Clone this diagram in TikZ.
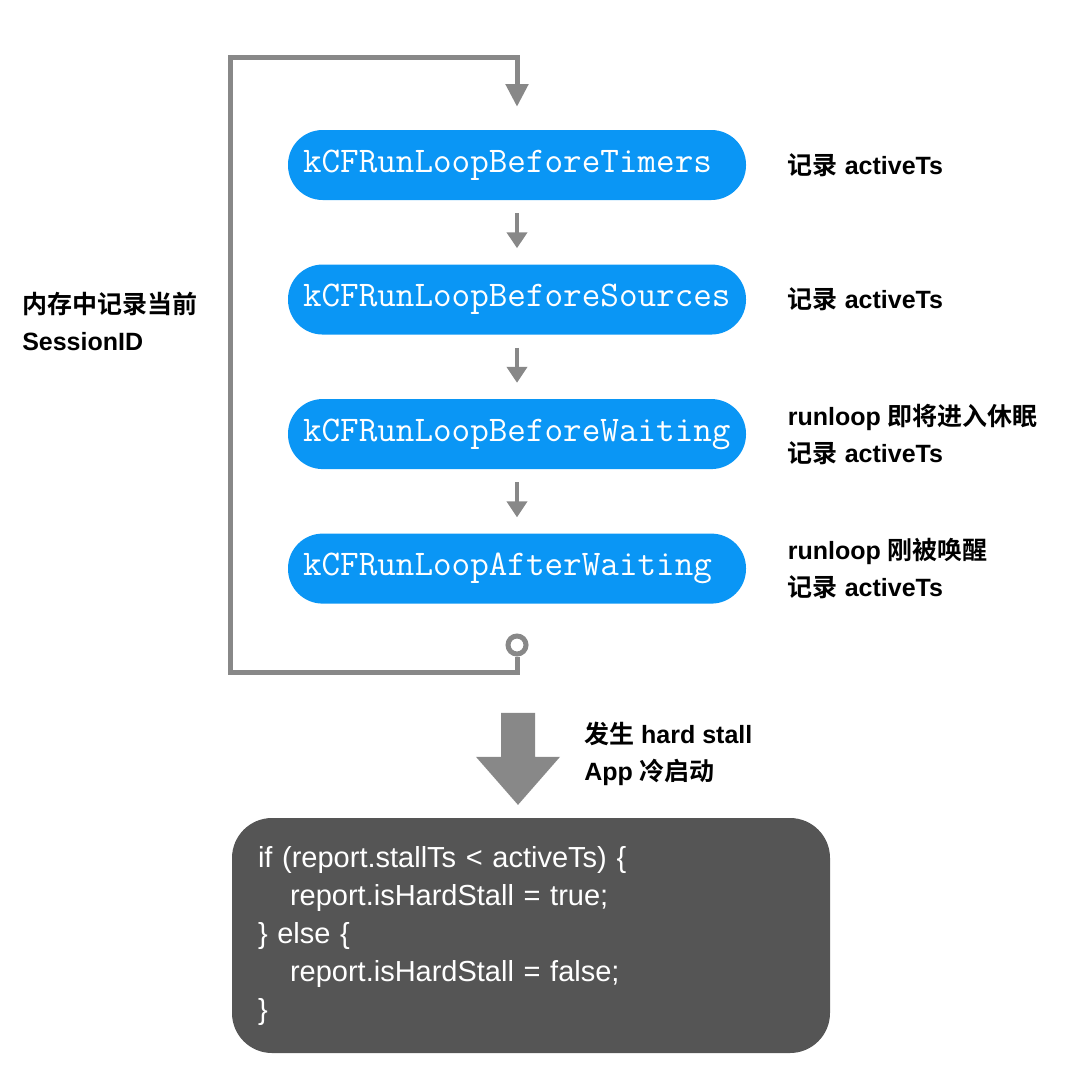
\documentclass[tikz,border=0pt]{standalone}
\usepackage{fontspec}
\setmainfont{Liberation Sans}
\newfontfamily\cjk{Noto Sans CJK SC}[BoldFont={Noto Sans CJK SC Bold}]
\usetikzlibrary{arrows.meta,calc,positioning}
\definecolor{pillblue}{RGB}{10,150,245}
\definecolor{loopgray}{RGB}{136,136,136}
\definecolor{codegray}{RGB}{85,85,85}
\newcommand{\zh}[1]{{\cjk #1}}
\tikzset{
  pill/.style={
    rounded corners=26pt,
    fill=pillblue,
    text=white,
    align=left,
    minimum width=343.5pt,
    minimum height=52.5pt,
    text width=321pt,
    inner xsep=11.25pt,
    font=\ttfamily\fontsize{27.07}{30}\selectfont
  },
  note/.style={
    align=left,
    inner sep=0pt,
    font=\bfseries\fontsize{18.75}{27.75}\selectfont
  },
  codebox/.style={
    rounded corners=30pt,
    fill=codegray,
    text=white,
    align=left,
    minimum width=448.5pt,
    minimum height=176.25pt,
    text width=409.5pt,
    inner xsep=19.5pt,
    font=\fontsize{21.75}{28.5}\selectfont
  },
  ring/.style={
    circle,
    draw=loopgray,
    fill=white,
    line width=3.75pt,
    minimum size=13.5pt,
    inner sep=0pt
  },
  flow/.style={
    -{Triangle[width=15pt,length=12pt]},
    line width=3pt,
    draw=loopgray,
    shorten <=9.75pt,
    shorten >=12pt
  },
  loopline/.style={
    -{Triangle[width=16.5pt,length=17pt]},
    line width=3.75pt,
    draw=loopgray
  }
}
\begin{document}
\begin{tikzpicture}[x=0.75pt,y=-0.75pt,node distance=48pt]
\useasboundingbox (0,0) rectangle (1080,1092);
% run loop stages
\node[pill] (b1) at (517,165) {kCFRunLoopBeforeTimers};
\node[pill, below=of b1] (b2) {kCFRunLoopBeforeSources};
\node[pill, below=of b2] (b3) {kCFRunLoopBeforeWaiting};
\node[pill, below=of b3] (b4) {kCFRunLoopAfterWaiting};
\draw[flow] (b1) -- (b2);
\draw[flow] (b2) -- (b3);
\draw[flow] (b3) -- (b4);
% notes
\node[note, right=31pt of b1] (n1) {\zh{记录} activeTs};
\node[note, right=31pt of b2] (n2) {\zh{记录} activeTs};
\node[note, right=31pt of b3] (n3) {runloop \zh{即将进入休眠}\\\zh{记录} activeTs};
\node[note, right=31pt of b4] (n4) {runloop \zh{刚被唤醒}\\\zh{记录} activeTs};
\node[note, anchor=west] (mem) at (22,321) {\zh{内存中记录当前}\\SessionID};
% loop back
\node[ring] (ring) at (517,645) {};
\draw[loopline, shorten >=17.25pt] (ring.south) -- ++(0,16) -| (230,57) -| (b1.north);
% result
\node[codebox] (code) at (531,935.5) {if (report.stallTs < activeTs) \{\\
\hspace*{24pt}report.isHardStall = true;\\
\} else \{\\
\hspace*{24pt}report.isHardStall = false;\\
\}};
\path (b4.south) ++(-16,109) coordinate (drop);
\fill[loopgray] (drop) -- ++(34,0) -- ++(0,44) -- ++(25,0) -- ++(-42,48)
  -- ++(-42,-48) -- ++(25,0) -- cycle;
\node[note, anchor=west] (stall) at (584,754) {\zh{发生} hard stall\\App \zh{冷启动}};
\end{tikzpicture}
\end{document}
